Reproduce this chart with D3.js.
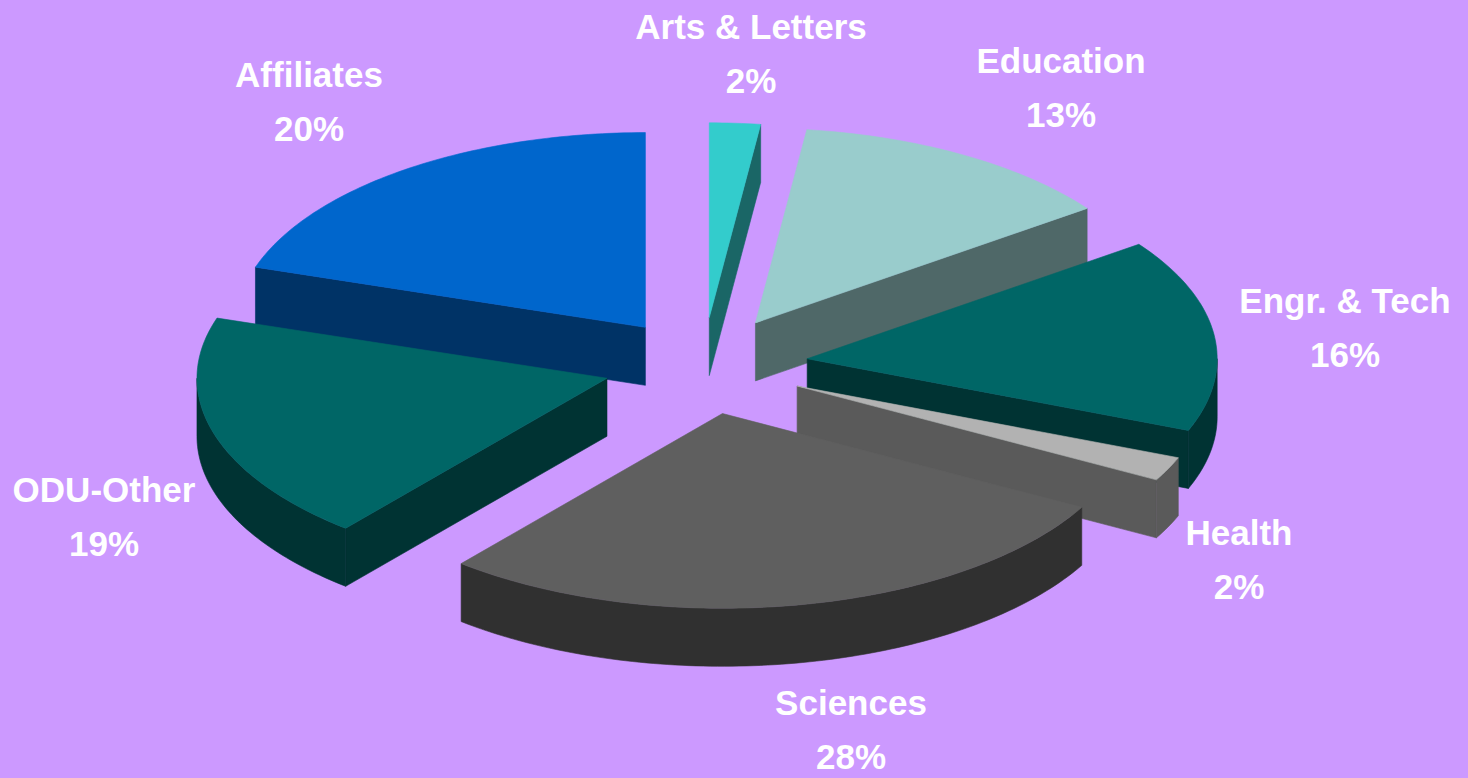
<!doctype html>
<html lang="en">
<head>
  <meta charset="utf-8">
  <title>3D Pie Chart</title>
  <script src="https://d3js.org/d3.v7.min.js"></script>
  <style>
    html, body { margin: 0; padding: 0; background: #cc99ff; }
    svg { display: block; }
  </style>
</head>
<body>
  <div id="chart"></div>
  <script type="text/javascript">

    // data (percent of total)
    var categories = ['Arts & Letters', 'Education', 'Engr. & Tech', 'Health', 'Sciences', 'ODU-Other', 'Affiliates'];
    var shares = [2, 13, 16, 2, 28, 19, 20];
    var shareLabels = ['2%', '13%', '16%', '2%', '28%', '19%', '20%'];

    // colours: top face and side faces
    var topColors = ['#33cccc', '#99cccc', '#006666', '#b2b2b2', '#5f5f5f', '#006666', '#0066cc'];
    var sideColors = ['#1a6666', '#4f6868', '#003333', '#5a5a5a', '#303030', '#003333', '#003366'];

    // layout: how far each slice is pulled out from the centre
    var explode = [100, 103, 105, 104, 104, 100, 98];
    // label anchors (centre x, first baseline)
    var labelPos = [[751, 39], [1061, 73], [1345, 313], [1239, 545], [851, 715], [104, 502], [309, 87]];

    var width = 1468, height = 778;
    var cx = 703, cy = 365, R = 410, k = 0.475, depth = 58;

    var svg = d3.select('#chart')
      .append('svg')
      .attr('width', width)
      .attr('height', height);

    svg.append('rect')
      .attr('width', width)
      .attr('height', height)
      .attr('fill', '#cc99ff');

    var pie = d3.pie()
      .sort(null)
      .value(function(d) { return d; });

    var slices = pie(shares);

    var line = d3.line();

    // project a point of the (tilted) pie onto the screen
    function pt(a, r, ox, oy, z) {
      return [ox + r * Math.sin(a), oy - r * Math.cos(a) * k + z];
    }

    function arcPts(a0, a1, ox, oy, z) {
      var n = Math.max(2, Math.ceil((a1 - a0) / (Math.PI / 180)));
      var pts = [];
      for (var j = 0; j <= n; j++) {
        var a = a0 + (a1 - a0) * j / n;
        pts.push(pt(a, R, ox, oy, z));
      }
      return pts;
    }

    // back slices first
    var order = d3.range(slices.length).sort(function(a, b) {
      var ma = (slices[a].startAngle + slices[a].endAngle) / 2;
      var mb = (slices[b].startAngle + slices[b].endAngle) / 2;
      return Math.cos(mb) - Math.cos(ma);
    });

    var g = svg.append('g');

    order.forEach(function(i) {
      var s = slices[i];
      var a0 = s.startAngle, a1 = s.endAngle;
      var m = (a0 + a1) / 2;
      var ox = cx + explode[i] * Math.sin(m);
      var oy = cy - explode[i] * Math.cos(m) * k;

      var sg = g.append('g').attr('class', 'slice');

      function face(pts, col) {
        sg.append('path')
          .attr('d', line(pts) + 'Z')
          .attr('fill', col)
          .attr('stroke', col)
          .attr('stroke-width', 0.6)
          .attr('stroke-linejoin', 'round');
      }

      // radial cut faces
      if (Math.sin(a0) < -1e-6) {
        face([[ox, oy], pt(a0, R, ox, oy, 0), pt(a0, R, ox, oy, depth), [ox, oy + depth]], sideColors[i]);
      }
      if (Math.sin(a1) > 1e-6) {
        face([[ox, oy], pt(a1, R, ox, oy, 0), pt(a1, R, ox, oy, depth), [ox, oy + depth]], sideColors[i]);
      }

      // outer wall (front half only)
      var lo = Math.max(a0, Math.PI / 2), hi = Math.min(a1, 3 * Math.PI / 2);
      if (lo < hi) {
        var wall = arcPts(lo, hi, ox, oy, 0).concat(arcPts(lo, hi, ox, oy, depth).reverse());
        face(wall, sideColors[i]);
      }

      // top
      face([[ox, oy]].concat(arcPts(a0, a1, ox, oy, 0)), topColors[i]);
    });

    // labels
    var labels = svg.selectAll('.label')
      .data(categories)
      .enter()
      .append('g')
      .attr('class', 'label')
      .attr('transform', function(d, i) {
        return 'translate(' + labelPos[i][0] + ',' + labelPos[i][1] + ')';
      });

    labels.append('text')
      .attr('text-anchor', 'middle')
      .style('font-family', '"Liberation Sans", Arial, sans-serif')
      .style('font-weight', 'bold')
      .style('font-size', '35px')
      .attr('fill', '#ffffff')
      .text(function(d) { return d; });

    labels.append('text')
      .attr('y', 54)
      .attr('text-anchor', 'middle')
      .style('font-family', '"Liberation Sans", Arial, sans-serif')
      .style('font-weight', 'bold')
      .style('font-size', '35px')
      .attr('fill', '#ffffff')
      .text(function(d, i) { return shareLabels[i]; });

  </script>
</body>
</html>
